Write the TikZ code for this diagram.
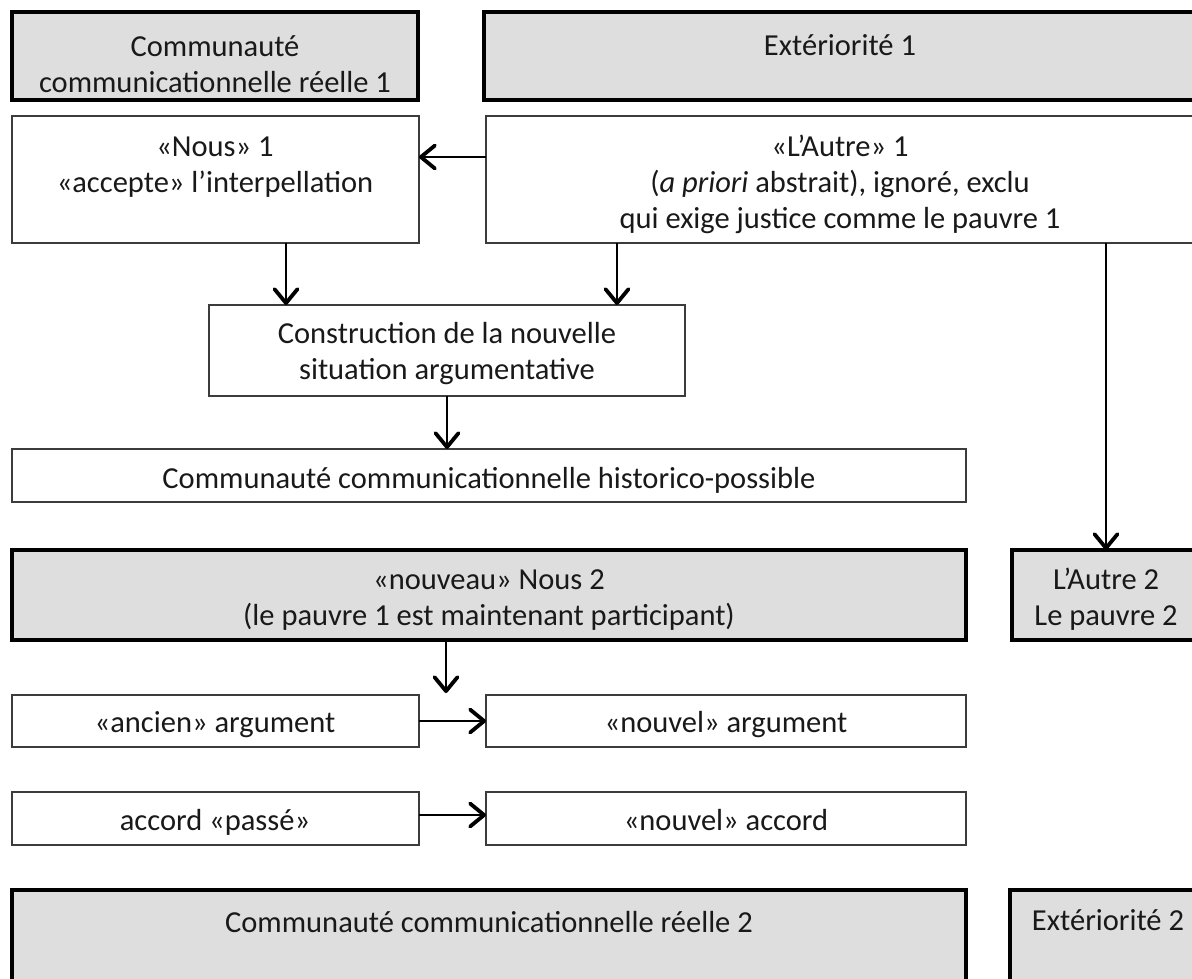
\documentclass[tikz,border=0pt]{standalone}
\usepackage{fontspec}
\setmainfont{Carlito}
\usetikzlibrary{arrows.meta}
\definecolor{boxgray}{RGB}{222,222,222}
\definecolor{thinline}{RGB}{60,60,60}
\definecolor{txtcol}{RGB}{25,25,25}
\tikzset{
  wbox/.style={draw=thinline, line width=1.7pt, fill=white, inner sep=0pt, outer sep=0pt},
  gbox/.style={draw=black, line width=4.5pt, fill=boxgray, inner sep=0pt, outer sep=0pt},
  txt/.style={font=\fontsize{30.5}{36}\selectfont, align=center, inner sep=0pt, anchor=north, text=txtcol},
  arr/.style={draw=black, line width=2.2pt, -{Straight Barb[length=14pt,width=23pt,line width=3.8pt,round]}},
}
\begin{document}
\begin{tikzpicture}[x=1pt,y=-1pt]
\path[use as bounding box, clip] (0,0) rectangle (1192,978);
\fill[white] (0,0) rectangle (1192,978);
% boxes
\node[gbox, minimum width=406pt, minimum height=88pt] (ccr1) at (215,56) {};
\node[gbox, minimum width=726pt, minimum height=88pt] (ext1) at (847,56) {};
\node[wbox, minimum width=407pt, minimum height=127pt] (nous1) at (215.5,179.5) {};
\node[wbox, minimum width=724pt, minimum height=127pt] (autre1) at (848,179.5) {};
\node[wbox, minimum width=476pt, minimum height=91pt] (constr) at (447,350.5) {};
\node[wbox, minimum width=954pt, minimum height=53pt] (hist) at (489,475.5) {};
\node[gbox, minimum width=954pt, minimum height=90pt] (nous2) at (489,595) {};
\node[gbox, minimum width=198pt, minimum height=90pt] (autre2) at (1111,595) {};
\node[wbox, minimum width=407pt, minimum height=52pt] (ancien) at (215.5,721) {};
\node[wbox, minimum width=480pt, minimum height=52pt] (nouvarg) at (726,721) {};
\node[wbox, minimum width=407pt, minimum height=53pt] (accord) at (215.5,818.5) {};
\node[wbox, minimum width=480pt, minimum height=53pt] (nouvacc) at (726,818.5) {};
\node[gbox, minimum width=954pt, minimum height=100pt] (ccr2) at (489,940) {};
\node[gbox, minimum width=200pt, minimum height=100pt] (ext2) at (1110,940) {};
% texts
\node[txt] (tccr1) at (215,31) {\strut Communauté\\communicationnelle réelle 1};
\node[txt] (text1) at (840,30) {\strut Extériorité 1};
\node[txt] (tnous1) at (215,131.5) {\strut «Nous» 1\\«accepte» l’interpellation};
\node[txt] (tautre1) at (840,131.5) {\strut «L’Autre» 1\\(\textit{a priori} abstrait), ignoré, exclu\\qui exige justice comme le pauvre 1};
\node[txt] (tconstr) at (447,317.8) {\strut Construction de la nouvelle\\situation argumentative};
\node[txt] (thist) at (489,463.3) {\strut Communauté communicationnelle historico-possible};
\node[txt] (tnous2) at (489,563.8) {\strut «nouveau» Nous 2\\(le pauvre 1 est maintenant participant)};
\node[txt] (tautre2) at (1106,564.3) {\strut L’Autre 2\\Le pauvre 2};
\node[txt] (tancien) at (215,706.8) {\strut «ancien» argument};
\node[txt] (tnouvarg) at (726,706.8) {\strut «nouvel» argument};
\node[txt] (taccord) at (215,804.8) {\strut accord «passé»};
\node[txt] (tnouvacc) at (726,804.8) {\strut «nouvel» accord};
\node[txt] (tccr2) at (489,906.8) {\strut Communauté communicationnelle réelle 2};
\node[txt] (text2) at (1108,904.8) {\strut Extériorité 2};
% connectors
\coordinate (n2end) at (446,693);
\draw[arr] ([yshift=22.5pt]autre1.west) -- ([yshift=22.5pt]nous1.east);
\draw[arr] ([xshift=70.5pt]nous1.south) -- ([xshift=70.5pt]nous1.south |- constr.north);
\draw[arr] ([xshift=-231pt]autre1.south) -- ([xshift=-231pt]autre1.south |- constr.north);
\draw[arr] (constr.south) -- (constr.south |- hist.north);
\draw[arr] ([xshift=258pt]autre1.south) -- ([xshift=258pt]autre1.south |- autre2.north);
\draw[arr] (nous2.south -| n2end) -- (n2end);
\draw[arr] (ancien) -- (nouvarg);
\draw[arr] ([yshift=3.5pt]accord.east) -- ([yshift=3.5pt]nouvacc.west);
\end{tikzpicture}
\end{document}
